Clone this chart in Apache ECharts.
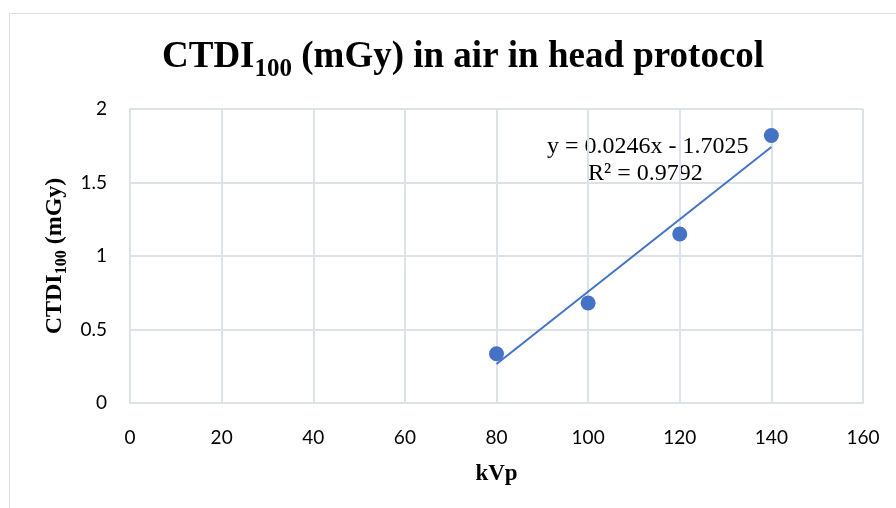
<!DOCTYPE html>
<html>
<head>
<meta charset="utf-8">
<script src="https://cdn.jsdelivr.net/npm/echarts@6/dist/echarts.min.js"></script>
<style>html,body{margin:0;padding:0;background:#fff;}#c{width:896px;height:508px;}</style>
</head>
<body>
<div id="c"></div>
<script>
const kvp = [80, 100, 120, 140];
const ctdi = [0.335, 0.68, 1.15, 1.82];
const trendX = [80, 140];
const trendY = [0.2655, 1.7415];
const xTicks = [0, 20, 40, 60, 80, 100, 120, 140, 160];
const yTicks = [0, 0.5, 1, 1.5, 2];
const eqText = ['y = 0.0246x - 1.7025', 'R² = 0.9792'];

const chart = echarts.init(document.getElementById('c'));
const serif = '"Liberation Serif","Times New Roman",serif';
const sans = 'Lato, "Liberation Sans", sans-serif';
const gridColor = '#dde1e8';

chart.setOption({
  animation: false,
  backgroundColor: '#fff',
  graphic: [
    { type: 'rect', shape: { x: 9.5, y: 13.5, width: 900, height: 520 }, style: { fill: 'none', stroke: '#d9dde5', lineWidth: 1 }, z: -1 },
    { type: 'text', left: 547, top: 135, style: { text: eqText[0], font: '24px ' + serif, fill: '#000' } },
    { type: 'text', left: 588, top: 162, style: { text: eqText[1], font: '24px ' + serif, fill: '#000' } }
  ],
  title: {
    text: '{a|CTDI}{b|100}{a| (mGy) in air in head protocol}',
    left: 157, top: 27,
    textStyle: {
      rich: {
        a: { fontFamily: serif, fontWeight: 'bold', fontSize: 37, color: '#000', lineHeight: 50, verticalAlign: 'middle' },
        b: { fontFamily: serif, fontWeight: 'bold', fontSize: 25, color: '#000', verticalAlign: 'top', padding: [25, 0, 0, 0] }
      }
    }
  },
  grid: { left: 130, right: 33, top: 109, bottom: 105, containLabel: false },
  xAxis: {
    type: 'value', min: 0, max: 160, interval: 20,
    name: 'kVp', nameLocation: 'middle', nameGap: 60,
    nameTextStyle: { fontFamily: serif, fontWeight: 'bold', fontSize: 23, color: '#000' },
    axisLine: { show: true, lineStyle: { color: gridColor, width: 2 } },
    axisTick: { show: false },
    axisLabel: { margin: 25, fontFamily: sans, fontSize: 19, color: '#000', formatter: v => xTicks.includes(v) ? String(v) : '' },
    splitLine: { show: true, lineStyle: { color: gridColor, width: 2 } }
  },
  yAxis: {
    type: 'value', min: 0, max: 2, interval: 0.5,
    name: '{a|CTDI}{b|100}{a| (mGy)}', nameLocation: 'middle', nameGap: 52,
    nameTextStyle: {
      rich: {
        a: { fontFamily: serif, fontWeight: 'bold', fontSize: 24, color: '#000', lineHeight: 30, verticalAlign: 'middle' },
        b: { fontFamily: serif, fontWeight: 'bold', fontSize: 16, color: '#000', verticalAlign: 'top', padding: [14, 0, 0, 0] }
      }
    },
    axisLine: { show: true, lineStyle: { color: gridColor, width: 2 } },
    axisTick: { show: false },
    axisLabel: { margin: 23, fontFamily: sans, fontSize: 19, color: '#000', formatter: v => yTicks.includes(v) ? String(v) : '' },
    splitLine: { show: true, lineStyle: { color: gridColor, width: 2 } }
  },
  series: [
    {
      type: 'line', data: trendX.map((x, i) => [x, trendY[i]]),
      showSymbol: false, symbol: 'none',
      lineStyle: { color: '#4472C4', width: 2 }, z: 2
    },
    {
      type: 'scatter', data: kvp.map((x, i) => [x, ctdi[i]]),
      symbol: 'circle', symbolSize: 15,
      itemStyle: { color: '#4472C4', opacity: 1 }, z: 3
    }
  ]
});
</script>
</body>
</html>
